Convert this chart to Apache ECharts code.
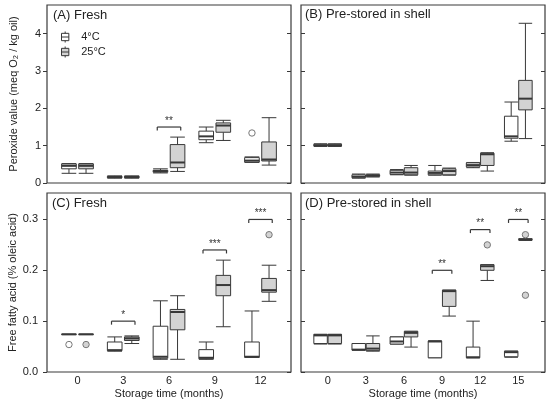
<!DOCTYPE html>
<html>
<head>
<meta charset="utf-8">
<script src="https://cdn.jsdelivr.net/npm/echarts@6/dist/echarts.min.js"></script>
<style>
html, body { margin: 0; padding: 0; background: #fff; }
#main { width: 550px; height: 405px; }
</style>
</head>
<body>
<div id="main"></div>
<script>
// storage times (months)
var timesFresh = [0, 3, 6, 9, 12];
var timesShell = [0, 3, 6, 9, 12, 15];

// box stats: [min, q1, median, q3, max]
var pvFresh4 = [
	[0.26, 0.38, 0.46, 0.51, 0.52],
	[0.13, 0.14, 0.16, 0.18, 0.19],
	[0.27, 0.29, 0.32, 0.34, 0.38],
	[1.08, 1.16, 1.25, 1.39, 1.50],
	[0.55, 0.56, 0.60, 0.68, 0.70]
];
var pvFresh25 = [
	[0.26, 0.38, 0.46, 0.51, 0.52],
	[0.13, 0.14, 0.16, 0.18, 0.19],
	[0.31, 0.41, 0.55, 1.03, 1.23],
	[1.14, 1.36, 1.54, 1.61, 1.68],
	[0.48, 0.59, 0.63, 1.10, 1.75]
];
var pvShell4 = [
	[0.98, 0.99, 1.01, 1.04, 1.05],
	[0.13, 0.14, 0.17, 0.22, 0.24],
	[0.22, 0.23, 0.28, 0.34, 0.36],
	[0.21, 0.22, 0.27, 0.32, 0.47],
	[0.41, 0.43, 0.48, 0.54, 0.55],
	[1.12, 1.20, 1.25, 1.79, 2.17]
];
var pvShell25 = [
	[0.98, 0.99, 1.01, 1.04, 1.05],
	[0.16, 0.18, 0.20, 0.22, 0.24],
	[0.21, 0.22, 0.28, 0.41, 0.47],
	[0.21, 0.22, 0.32, 0.38, 0.40],
	[0.32, 0.47, 0.77, 0.80, 0.81],
	[1.19, 1.96, 2.26, 2.75, 4.28]
];
var ffaFresh4 = [
	[0.074, 0.074, 0.074, 0.074, 0.074],
	[0.041, 0.042, 0.043, 0.059, 0.069],
	[0.025, 0.027, 0.030, 0.090, 0.140],
	[0.025, 0.026, 0.028, 0.044, 0.059],
	[0.029, 0.029, 0.030, 0.059, 0.120]
];
var ffaFresh25 = [
	[0.074, 0.074, 0.074, 0.074, 0.074],
	[0.056, 0.062, 0.066, 0.069, 0.071],
	[0.025, 0.083, 0.118, 0.123, 0.150],
	[0.089, 0.150, 0.171, 0.190, 0.220],
	[0.139, 0.157, 0.161, 0.184, 0.210]
];
var ffaShell4 = [
	[0.055, 0.056, 0.072, 0.074, 0.074],
	[0.043, 0.043, 0.044, 0.056, 0.056],
	[0.055, 0.055, 0.060, 0.069, 0.069],
	[0.028, 0.028, 0.060, 0.061, 0.061],
	[0.028, 0.028, 0.029, 0.049, 0.100],
	[0.029, 0.030, 0.039, 0.041, 0.041]
];
var ffaShell25 = [
	[0.055, 0.056, 0.072, 0.074, 0.074],
	[0.041, 0.042, 0.046, 0.056, 0.071],
	[0.049, 0.069, 0.077, 0.080, 0.080],
	[0.110, 0.129, 0.159, 0.161, 0.161],
	[0.180, 0.200, 0.208, 0.211, 0.211],
	[0.259, 0.260, 0.260, 0.262, 0.262]
];

// outliers: [time, value]
var pvFresh4Out = [[12, 1.34]];
var ffaFresh4Out = [[0, 0.054]];
var ffaFresh25Out = [[0, 0.054], [12, 0.27]];
var ffaShell25Out = [[12, 0.25], [15, 0.27], [15, 0.151]];

// significance brackets: [time, level, stars]
var pvFreshSig = [[6, 1.50, '**']];
var ffaFreshSig = [[3, 0.100, '*'], [9, 0.240, '***'], [12, 0.300, '***']];
var ffaShellSig = [[9, 0.200, '**'], [12, 0.280, '**'], [15, 0.300, '**']];

var pvTicks = [0, 1, 2, 3, 4];
var ffaTicks = [0, 0.1, 0.2, 0.3];

var FONT = 'Liberation Sans, Arial, sans-serif';
var INK = '#383838';
var GRAY = '#d3d3d3';

function boxItems(times, stats) {
	return times.map(function (t, i) { return [t].concat(stats[i]); });
}

function seg(x1, y1, x2, y2, w) {
	return {type: 'line', shape: {x1: x1, y1: y1, x2: x2, y2: y2}, style: {stroke: INK, lineWidth: w || 1}};
}

function boxRender(offset, width, fill) {
	return function (params, api) {
		var x = api.value(0) + offset;
		var hw = api.size([width, 0])[0] / 2;
		var pMin = api.coord([x, api.value(1)]);
		var pQ1 = api.coord([x, api.value(2)]);
		var pMed = api.coord([x, api.value(3)]);
		var pQ3 = api.coord([x, api.value(4)]);
		var pMax = api.coord([x, api.value(5)]);
		var cx = pMin[0];
		return {
			type: 'group',
			children: [
				seg(cx, pQ3[1], cx, pMax[1]),
				seg(cx, pQ1[1], cx, pMin[1]),
				seg(cx - hw, pMax[1], cx + hw, pMax[1]),
				seg(cx - hw, pMin[1], cx + hw, pMin[1]),
				{type: 'rect', shape: {x: cx - hw, y: pQ3[1], width: 2 * hw, height: pQ1[1] - pQ3[1]},
					style: {fill: fill, stroke: INK, lineWidth: 1}},
				seg(cx - hw, pMed[1], cx + hw, pMed[1], 2)
			]
		};
	};
}

function outRender(offset, fill) {
	return function (params, api) {
		var p = api.coord([api.value(0) + offset, api.value(1)]);
		return {type: 'circle', shape: {cx: p[0], cy: p[1], r: 3.2}, style: {fill: fill, stroke: '#777', lineWidth: 1}};
	};
}

function sigRender(arr) {
	return function (params, api) {
		var t = api.value(0), lv = api.value(1);
		var p1 = api.coord([t - 0.77, lv]);
		var p2 = api.coord([t + 0.77, lv]);
		return {
			type: 'group',
			children: [
				seg(p1[0], p1[1], p2[0], p2[1], 1.2),
				seg(p1[0], p1[1], p1[0], p1[1] + 3.5, 1.2),
				seg(p2[0], p2[1], p2[0], p2[1] + 3.5, 1.2),
				{type: 'text', style: {text: arr[params.dataIndex][2], x: (p1[0] + p2[0]) / 2, y: p1[1] - 1,
					align: 'center', verticalAlign: 'bottom', fontSize: 10, fontFamily: FONT, fill: '#333'}}
			]
		};
	};
}

var panels = [
	{times: timesFresh, s4: pvFresh4, s25: pvFresh25, o4: pvFresh4Out, o25: [], sig: pvFreshSig, off: 0.56, w: 0.96},
	{times: timesShell, s4: pvShell4, s25: pvShell25, o4: [], o25: [], sig: [], off: 0.56, w: 1.06},
	{times: timesFresh, s4: ffaFresh4, s25: ffaFresh25, o4: ffaFresh4Out, o25: ffaFresh25Out, sig: ffaFreshSig, off: 0.56, w: 0.96},
	{times: timesShell, s4: ffaShell4, s25: ffaShell25, o4: [], o25: ffaShell25Out, sig: ffaShellSig, off: 0.56, w: 1.06}
];

var series = [];
panels.forEach(function (pn, g) {
	var axes = {xAxisIndex: g, yAxisIndex: g * 2};
	series.push(Object.assign({name: '4°C', type: 'custom', renderItem: boxRender(-pn.off, pn.w, '#fff'),
		encode: {x: 0, y: [1, 2, 3, 4, 5]}, itemStyle: {color: '#fff', borderColor: INK},
		data: boxItems(pn.times, pn.s4), silent: true}, axes));
	series.push(Object.assign({name: '25°C', type: 'custom', renderItem: boxRender(pn.off, pn.w, GRAY),
		encode: {x: 0, y: [1, 2, 3, 4, 5]}, itemStyle: {color: GRAY, borderColor: INK},
		data: boxItems(pn.times, pn.s25), silent: true}, axes));
	series.push(Object.assign({name: 'out4', type: 'custom', renderItem: outRender(-pn.off, '#fff'),
		encode: {x: 0, y: 1}, data: pn.o4, silent: true}, axes));
	series.push(Object.assign({name: 'out25', type: 'custom', renderItem: outRender(pn.off, GRAY),
		encode: {x: 0, y: 1}, data: pn.o25, silent: true}, axes));
	series.push(Object.assign({name: 'sig', type: 'custom', renderItem: sigRender(pn.sig),
		encode: {x: 0, y: 1}, data: pn.sig.map(function (d) { return [d[0], d[1]]; }), silent: true}, axes));
});

var grids = [
	{left: 47, top: 5, width: 244, height: 178},
	{left: 301, top: 5, width: 244, height: 178},
	{left: 47, top: 193, width: 244, height: 179},
	{left: 301, top: 193, width: 244, height: 179}
].map(function (g) {
	return Object.assign({show: true, borderColor: '#3a3a3a', borderWidth: 1.2, backgroundColor: 'transparent'}, g);
});

function xAxis(g, max, withLabels, ticks) {
	return {
		type: 'value', gridIndex: g, min: -2 - (max > 15 ? 0.1 : 0), max: max,
		axisLine: {show: false, onZero: false}, axisTick: {show: false}, splitLine: {show: false},
		axisLabel: {show: withLabels, customValues: ticks, margin: 3, fontSize: 11, color: '#222', fontFamily: FONT},
		name: withLabels ? 'Storage time (months)' : '', nameLocation: 'middle', nameGap: 16,
		nameTextStyle: {fontSize: 11, color: '#222', fontFamily: FONT}
	};
}

function yPair(g, max, ticks, label, name, fmt, margin) {
	return [
		{
			type: 'value', gridIndex: g, min: 0, max: max, position: 'left',
			axisLine: {show: false, onZero: false}, splitLine: {show: false},
			axisTick: {show: true, inside: !label, length: 4, customValues: ticks, lineStyle: {color: INK}},
			axisLabel: {show: label, customValues: ticks, margin: margin, fontSize: 11, color: '#222', fontFamily: FONT,
				formatter: fmt},
			name: name, nameLocation: 'middle', nameGap: 28,
			nameTextStyle: {fontSize: 11, color: '#222', fontFamily: FONT}
		},
		{
			type: 'value', gridIndex: g, min: 0, max: max, position: 'right',
			axisLine: {show: false, onZero: false}, splitLine: {show: false},
			axisTick: {show: true, inside: true, length: 4, customValues: ticks, lineStyle: {color: INK}},
			axisLabel: {show: false}
		}
	];
}

var fmtPv = function (v) { return String(v); };
var fmtFfa = function (v) { return v.toFixed(1); };

var yAxes = [].concat(
	yPair(0, 4.77, pvTicks, true, 'Peroxide value (meq O\u2082 / kg oil)', fmtPv, 6),
	yPair(1, 4.77, pvTicks, false, '', fmtPv, 6),
	yPair(2, 0.352, ffaTicks, true, 'Free fatty acid (% oleic acid)', fmtFfa, 9),
	yPair(3, 0.352, ffaTicks, false, '', fmtFfa, 9)
);

var titleStyle = {fontSize: 13, fontWeight: 'normal', color: '#222', fontFamily: FONT};
var boxIcon = 'path://M4,0 L4,2 M0,2 L8,2 L8,10 L0,10 Z M0,6 L8,6 M4,10 L4,12';

var chart = echarts.init(document.getElementById('main'));
chart.setOption({
	animation: false,
	textStyle: {fontFamily: FONT},
	title: [
		{text: '(A) Fresh', left: 53, top: 9, padding: 0, textStyle: titleStyle},
		{text: '(B) Pre-stored in shell', left: 305, top: 8, padding: 0, textStyle: titleStyle},
		{text: '(C) Fresh', left: 52, top: 197, padding: 0, textStyle: titleStyle},
		{text: '(D) Pre-stored in shell', left: 305, top: 197, padding: 0, textStyle: titleStyle}
	],
	legend: {
		orient: 'vertical', left: 61, top: 31, padding: 0, itemGap: 3,
		itemWidth: 8, itemHeight: 11, symbolKeepAspect: true, selectedMode: false,
		textStyle: {fontSize: 11, color: '#222', fontFamily: FONT, padding: [0, 0, 0, 7]},
		data: [
			{name: '4°C', icon: boxIcon, itemStyle: {color: '#fff', borderColor: INK, borderWidth: 1}},
			{name: '25°C', icon: boxIcon, itemStyle: {color: GRAY, borderColor: INK, borderWidth: 1}}
		]
	},
	grid: grids,
	xAxis: [
		xAxis(0, 14, false, timesFresh),
		xAxis(1, 17.1, false, timesShell),
		xAxis(2, 14, true, timesFresh),
		xAxis(3, 17.1, true, timesShell)
	],
	yAxis: yAxes,
	series: series
});
</script>
</body>
</html>
